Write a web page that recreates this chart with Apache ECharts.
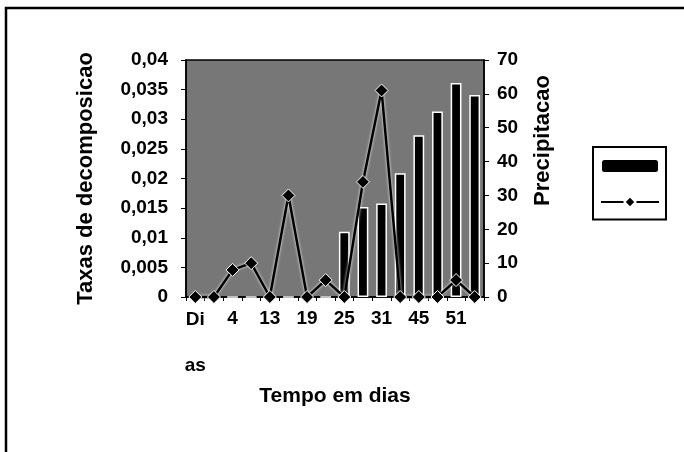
<!DOCTYPE html>
<html>
<head>
<meta charset="utf-8">
<script src="https://cdn.jsdelivr.net/npm/echarts@6/dist/echarts.min.js"></script>
<style>
  html, body { margin: 0; padding: 0; background: #fff; }
  #chart { width: 684px; height: 452px; }
</style>
</head>
<body>
<div id="chart"></div>
<script>
// ---- data ----
const categories = ['Dias', '1', '4', '7', '13', '16', '19', '22', '25', '28', '31', '38', '45', '48', '51', '54'];
const decompRates = [0, 0, 0, 0, 0, 0, 0, 0, 0.011, 0.0152, 0.0158, 0.0209, 0.0273, 0.0313, 0.0361, 0.0341];
const precipitation = [0, 0, 8, 10, 0, 30, 0, 5, 0, 34, 61, 0, 0, 0, 5, 0];
const leftTicks = { min: 0, max: 0.04, interval: 0.005 };
const rightTicks = { min: 0, max: 70, interval: 10 };

const FONT = '"Liberation Sans", Arial, sans-serif';
const chart = echarts.init(document.getElementById('chart'), null, { renderer: 'canvas' });

chart.setOption({
  animation: false,
  backgroundColor: '#ffffff',
  textStyle: { fontFamily: FONT, color: '#000' },
  grid: {
    left: 186, right: 200, top: 60, bottom: 155,
    show: true, backgroundColor: '#777777', borderColor: '#000', borderWidth: 1.5
  },
  legend: {
    left: 593, top: 147,
    orient: 'vertical',
    itemWidth: 58, itemHeight: 14, itemGap: 21,
    padding: [11, 6, 11, 7],
    borderColor: '#000', borderWidth: 2, borderRadius: 0,
    backgroundColor: '#fff',
    formatter: function () { return ''; },
    textStyle: { fontSize: 1 },
    data: [
      { name: 'Taxas de decomposicao', icon: 'roundRect' },
      { name: 'Precipitacao' }
    ]
  },
  xAxis: {
    type: 'category',
    data: categories,
    boundaryGap: true,
    axisLine: { lineStyle: { color: '#000', width: 1.5 } },
    axisTick: { show: true, length: 4, lineStyle: { color: '#000' }, interval: 0 },
    axisLabel: {
      interval: 1,
      margin: 12,
      color: '#000', fontFamily: FONT, fontWeight: 'bold', fontSize: 19,
      formatter: function (v) { return v === 'Dias' ? '{a|Di}\n{b|as}' : v; },
      rich: {
        a: { fontFamily: FONT, fontWeight: 'bold', fontSize: 19, color: '#000', lineHeight: 22 },
        b: { fontFamily: FONT, fontWeight: 'bold', fontSize: 19, color: '#000', lineHeight: 70 }
      }
    },
    name: 'Tempo em dias',
    nameLocation: 'middle',
    nameGap: 89,
    nameTextStyle: { fontFamily: FONT, fontWeight: 'bold', fontSize: 21, color: '#000' }
  },
  yAxis: [
    {
      type: 'value',
      position: 'left',
      min: leftTicks.min, max: leftTicks.max, interval: leftTicks.interval,
      splitLine: { show: false },
      axisLine: { show: true, lineStyle: { color: '#000', width: 1.5 } },
      axisTick: { show: true, length: 5, lineStyle: { color: '#000' } },
      axisLabel: {
        margin: 18, color: '#000', fontFamily: FONT, fontWeight: 'bold', fontSize: 19,
        formatter: function (v) { return String(Math.round(v * 1000) / 1000).replace('.', ','); }
      },
      name: 'Taxas de decomposicao',
      nameLocation: 'middle',
      nameRotate: 90,
      nameGap: 89,
      nameTextStyle: { fontFamily: FONT, fontWeight: 'bold', fontSize: 22, color: '#000' }
    },
    {
      type: 'value',
      position: 'right',
      min: rightTicks.min, max: rightTicks.max, interval: rightTicks.interval,
      splitLine: { show: false },
      axisLine: { show: true, lineStyle: { color: '#000', width: 1.5 } },
      axisTick: { show: true, length: 5, lineStyle: { color: '#000' } },
      axisLabel: { margin: 13, color: '#000', fontFamily: FONT, fontWeight: 'bold', fontSize: 19 },
      name: 'Precipitacao',
      nameLocation: 'middle',
      nameRotate: 90,
      nameGap: 48,
      nameTextStyle: {
        fontFamily: FONT, fontWeight: 'bold', fontSize: 22, color: '#000',
        padding: [0, 0, 0, 76]
      }
    }
  ],
  graphic: [
    {
      type: 'polyline',
      shape: { points: [[6, 452], [6, 8], [684, 8]] },
      style: { stroke: '#000', lineWidth: 2.5, fill: null },
      silent: true
    }
  ],
  series: [
    {
      name: 'Taxas de decomposicao',
      type: 'bar',
      yAxisIndex: 0,
      data: decompRates,
      barWidth: '58%',
      itemStyle: { color: '#000', borderColor: '#fff', borderWidth: 1.5 },
      z: 2
    },
    {
      name: 'Precipitacao',
      type: 'line',
      yAxisIndex: 1,
      data: precipitation,
      symbol: 'diamond',
      symbolSize: 13,
      showSymbol: true,
      showAllSymbol: true,
      clip: false,
      lineStyle: { color: '#000', width: 2.5, shadowColor: '#fff', shadowBlur: 3 },
      itemStyle: { color: '#000', borderColor: '#fff', borderWidth: 1 },
      z: 3
    }
  ]
});
</script>
</body>
</html>
